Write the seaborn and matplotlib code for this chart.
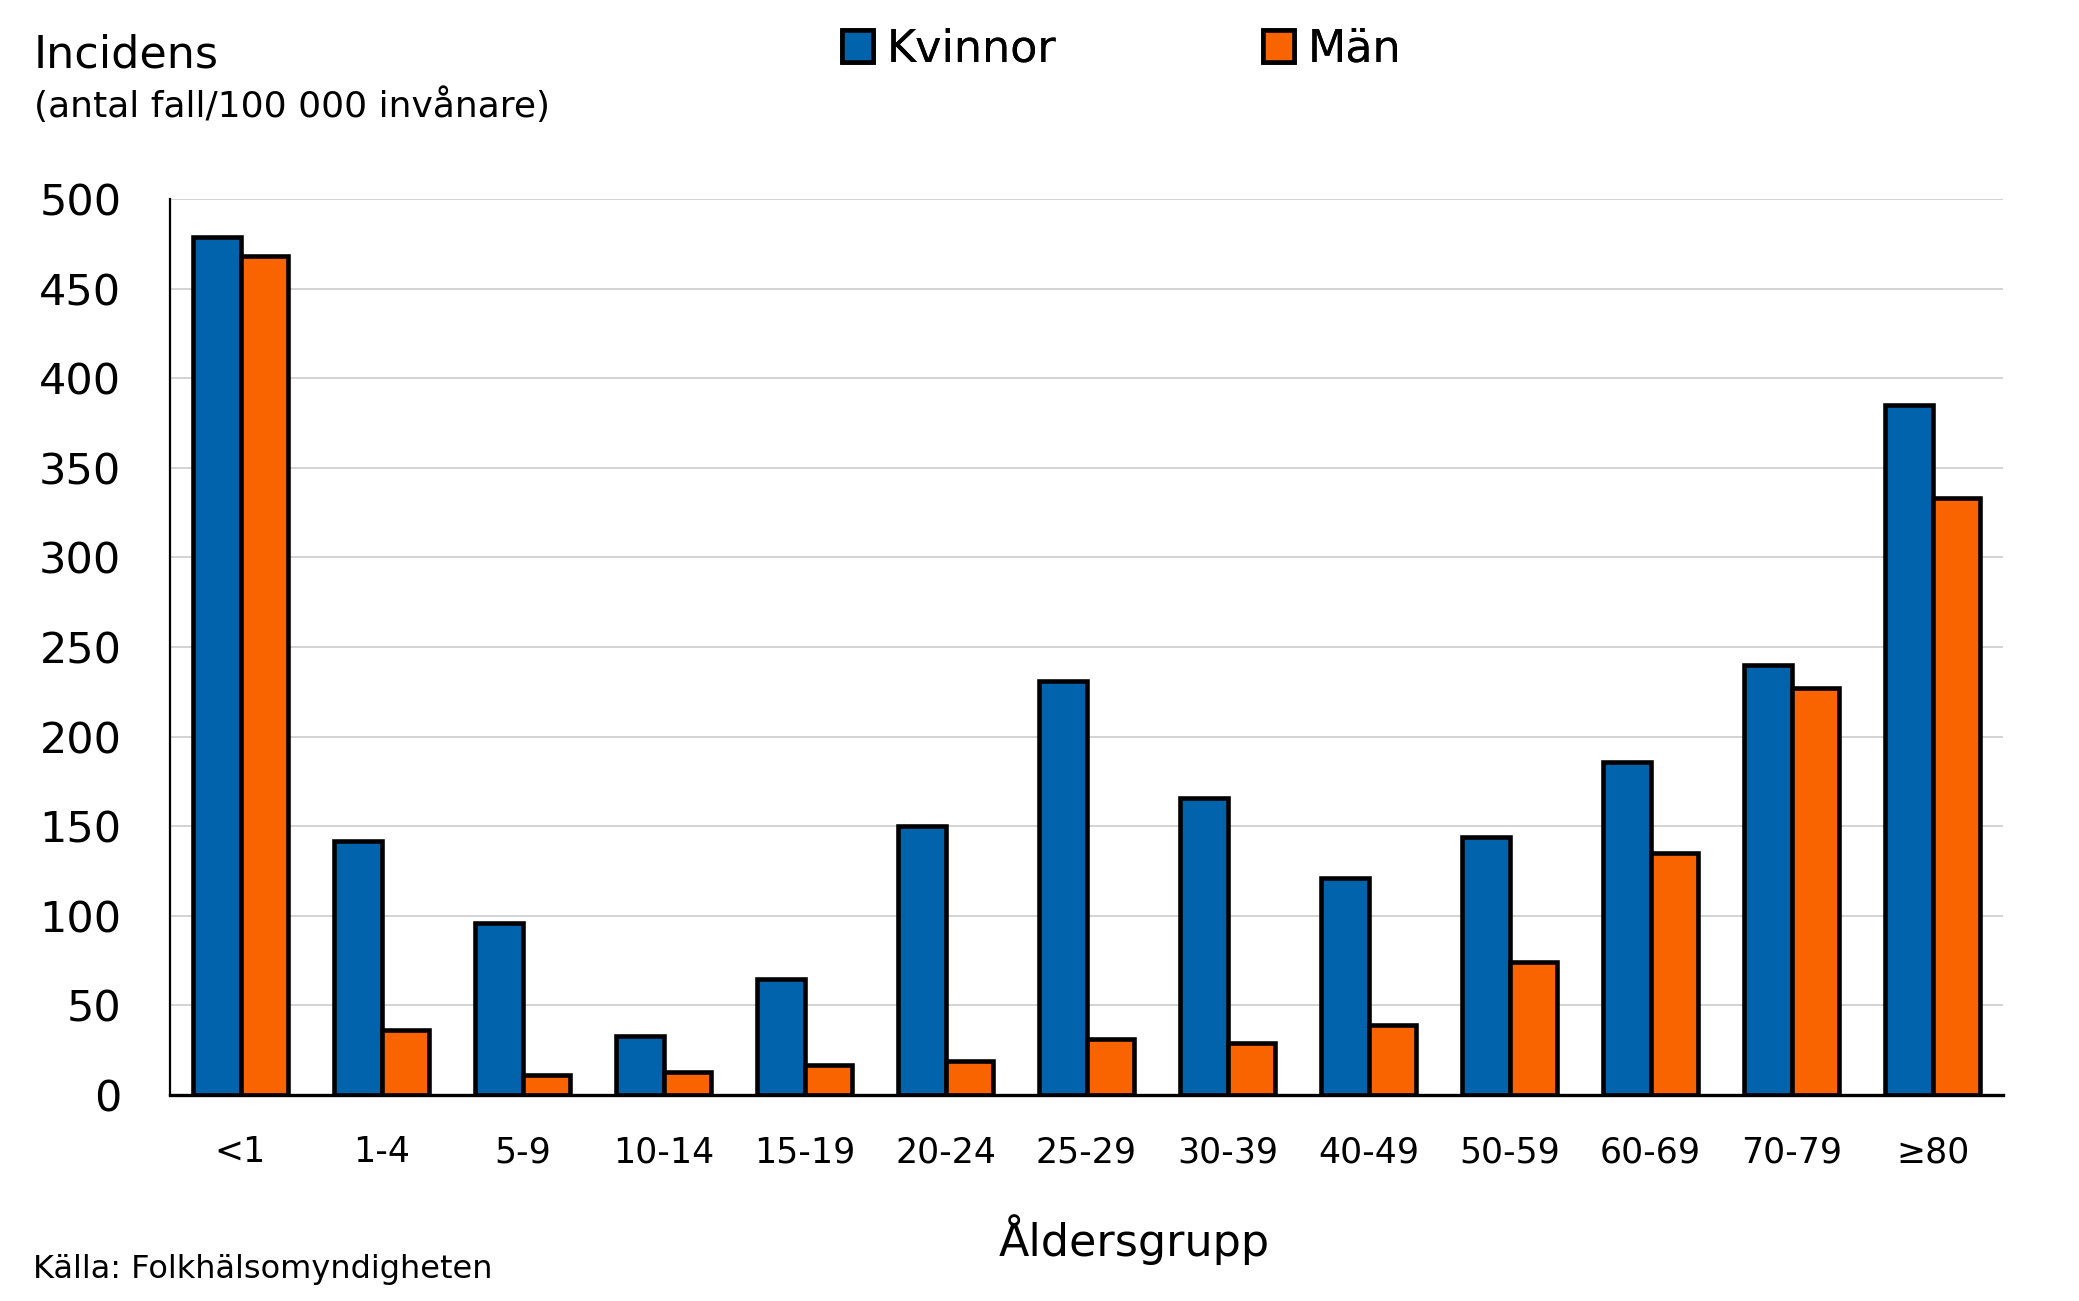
import pandas as pd
import matplotlib.pyplot as plt
import seaborn as sns

# Data
age_groups = ["<1", "1-4", "5-9", "10-14", "15-19", "20-24", "25-29",
              "30-39", "40-49", "50-59", "60-69", "70-79", "≥80"]
kvinnor = [479, 142, 96, 33, 65, 150, 231, 166, 121, 144, 186, 240, 385]
man = [468, 36, 11, 13, 17, 19, 31, 29, 39, 74, 135, 227, 333]
series_names = ["Kvinnor", "Män"]
y_ticks = list(range(0, 501, 50))

BLUE = "#0063AC"
ORANGE = "#F96300"

sns.set_theme(style="white")
plt.rcParams['font.family'] = ['DejaVu Sans']
plt.rcParams['text.color'] = 'black'
plt.rcParams['xtick.color'] = 'black'
plt.rcParams['ytick.color'] = 'black'

df = pd.DataFrame({
    "grupp": age_groups * 2,
    "incidens": kvinnor + man,
    "kon": [series_names[0]] * len(age_groups) + [series_names[1]] * len(age_groups),
})

W, H = 2079, 1301
fig = plt.figure(figsize=(W / 100, H / 100), dpi=100)
ax = fig.add_axes([170 / W, 1 - 1095 / H, (2003 - 170) / W, (1095 - 199) / H])

sns.barplot(data=df, x="grupp", y="incidens", hue="kon", order=age_groups,
            hue_order=series_names, palette=[BLUE, ORANGE], saturation=1,
            width=0.68, edgecolor="black", linewidth=3.3, ax=ax)

handles, labels = ax.get_legend_handles_labels()
ax.get_legend().remove()

ax.set_ylim(0, 500)
ax.set_yticks(y_ticks)
ax.set_yticklabels([str(v) for v in y_ticks], fontsize=31)
ax.tick_params(axis="y", direction="out", length=12, width=1.5, pad=23, color="black")
ax.tick_params(axis="x", length=0, pad=29, labelsize=25)
ax.set_xlabel("")
ax.set_ylabel("")
ax.yaxis.grid(True, color="#D3D3D3", linewidth=1.4)
ax.set_axisbelow(True)

for side in ["top", "right"]:
    ax.spines[side].set_visible(False)
ax.spines["left"].set_linewidth(1.6)
ax.spines["left"].set_color("black")
ax.spines["bottom"].set_linewidth(2.4)
ax.spines["bottom"].set_color("black")

# Titles and texts
fig.text(34 / W, 1 - 67 / H, "Incidens", fontsize=32, va="baseline", ha="left")
fig.text(34 / W, 1 - 117 / H, "(antal fall/100 000 invånare)", fontsize=26,
         va="baseline", ha="left")
fig.text(1134 / W, 1 - 1256 / H, "Åldersgrupp", fontsize=32, va="baseline", ha="center")
fig.text(33 / W, 1 - 1278 / H, "Källa: Folkhälsomyndigheten", fontsize=23,
         va="baseline", ha="left")

# Legend, one entry per position
leg_x = [842, 1263]
for h, lab, lx in zip(handles, labels, leg_x):
    leg = fig.legend([h], [lab], loc="center left", bbox_to_anchor=(lx / W, 1 - 49 / H),
                     frameon=False, fontsize=32, handlelength=0.7, handleheight=0.7,
                     handletextpad=0.3, borderpad=0, borderaxespad=0)
    fig.add_artist(leg)

fig.savefig("out.png", dpi=100)
